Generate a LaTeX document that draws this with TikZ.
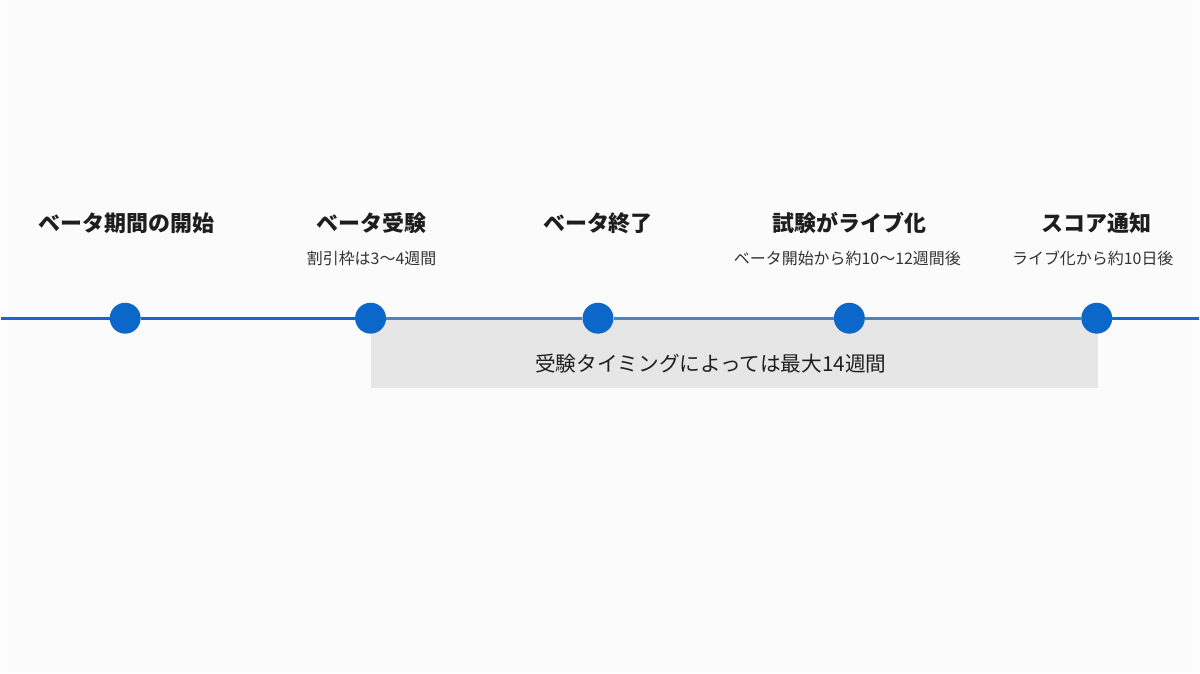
\documentclass[tikz,border=0pt]{standalone}
\usepackage{fontspec}
\setmainfont{Noto Sans CJK JP}
\usetikzlibrary{positioning}
\definecolor{tlblue}{HTML}{0B67CA}
\definecolor{tlline}{HTML}{1469CC}
\definecolor{tlsoft}{HTML}{4A84C6}
\definecolor{tlbox}{HTML}{E6E6E6}
\definecolor{tltext}{HTML}{1E1E1E}
\definecolor{tlnote}{HTML}{333333}
\definecolor{tlback}{HTML}{FBFBFB}
\tikzset{%
	milestone dot/.style={
		circle,
		fill=tlblue,
		minimum size=31pt,
		inner sep=0pt
	},
	milestone title/.style={
		font=\bfseries\fontsize{22}{26}\selectfont,
		text=tltext,
		inner sep=0pt
	},
	milestone note/.style={
		font=\fontsize{16}{19}\selectfont,
		text=tlnote,
		inner sep=0pt
	},
	time line/.style={
		draw=tlline,
		line width=3pt
	},
}

\begin{document}
\begin{tikzpicture}[x=1pt,y=-1pt]
		\fill[tlback] (0,0) rectangle (1200,675);
		% Window
		\node[fill=tlbox, minimum width=729pt, minimum height=71pt, anchor=north west, inner sep=0pt] (window) at (370,318) {};
		\node[font=\fontsize{20.7}{24}\selectfont, text=tltext, inner sep=0pt] (window-label) at (711,365) {受験タイミングによっては最大14週間};
		
		% Milestones
		\foreach \x [count=\i] in {124,370,598,850,1098}
		\node [milestone dot] (dot-\i) at (\x,319) {};
		
		\node[milestone title] (title-1) at (125,224) {ベータ期間の開始};
		\node[milestone title] (title-2) at (371,224) {ベータ受験};
		\node[milestone title] (title-3) at (598,224) {ベータ終了};
		\node[milestone title] (title-4) at (850,224) {試験がライブ化};
		\node[milestone title] (title-5) at (1098,224) {スコア通知};
		
		\node[milestone note] (note-2) at (371,259) {割引枠は3〜4週間};
		\node[milestone note] (note-4) at (848,259) {ベータ開始から約10〜12週間後};
		\node[milestone note] (note-5) at (1094,259) {ライブ化から約10日後};
		
		%Edges
		\coordinate (line-start) at (0,319);
		\coordinate (line-end) at (1200,319);
		\draw[time line] (line-start) -- (dot-1);
		\draw[time line] (dot-1) -- (dot-2);
		\foreach \m [evaluate=\m as \n using int(\m + 1)] in {2,3,4}
		\draw[time line, draw=tlsoft] (dot-\m) -- (dot-\n);
		\draw[time line] (dot-5) -- (line-end);
		
\end{tikzpicture}
\end{document}
